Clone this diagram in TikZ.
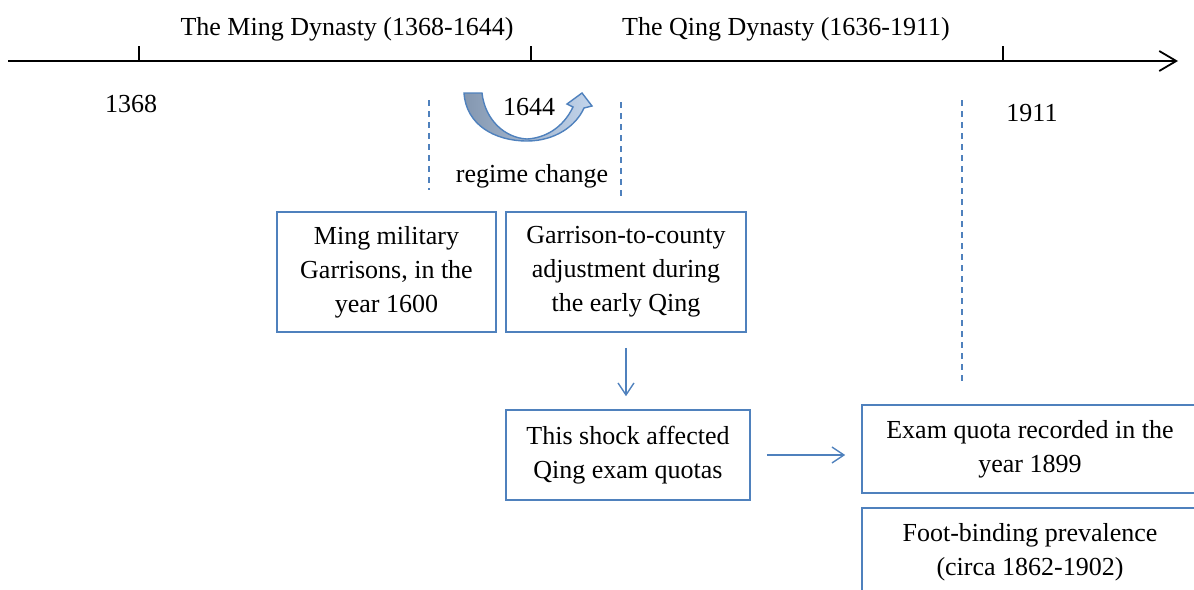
\documentclass[tikz,border=0pt]{standalone}
\usepackage{fontspec}
\setmainfont{Liberation Serif}
\usepackage{tikz}
\usetikzlibrary{arrows.meta}
\definecolor{boxblue}{HTML}{4F81BD}
\definecolor{lightarr}{HTML}{C3D5EC}
\definecolor{darkarr}{HTML}{8497B0}

\begin{document}
\begin{tikzpicture}[x=0.5pt, y=-0.5pt, font=\fontsize{13}{17}\selectfont,
  box/.style={draw=boxblue, line width=0.8pt, align=center, inner sep=0pt},
  link/.style={-{Straight Barb[length=6pt,width=8pt]}, draw=boxblue, line width=0.7pt},
  guide/.style={draw=boxblue, line width=1pt, dash pattern=on 3pt off 2.5pt}]
  \useasboundingbox (0,0) rectangle (1194,589);
  \clip (0,0) rectangle (1194,589);
  % time line
  \coordinate (t0) at (8,61);
  \coordinate (t1) at (1178,61);
  \draw[-{Straight Barb[length=8.5pt,width=10pt]}, line width=0.9pt] (t0) -- (t1);
  \foreach \x in {139,531,1003}
    \draw[line width=0.9pt] (\x,61) -- (\x,46);
  \node (mingera) at (347,29) {The Ming Dynasty (1368-1644)};
  \node (qingera) at (786,29) {The Qing Dynasty (1636-1911)};
  \node (y1368) at (131,104) {1368};
  \node (y1644) at (529,107) {1644};
  \node (y1911) at (1032,113) {1911};
  \node (regime) at (532,176) {regime change};
  % dashed guides
  \coordinate (g1a) at (429,100); \coordinate (g1b) at (429,190);
  \coordinate (g2a) at (621,102); \coordinate (g2b) at (621,196);
  \coordinate (g3a) at (962,100); \coordinate (g3b) at (962,383);
  \draw[guide] (g1a) -- (g1b);
  \draw[guide] (g2a) -- (g2b);
  \draw[guide] (g3a) -- (g3b);
  % u-turn arrow
  \draw[draw=boxblue, line width=0.7pt, left color=darkarr, right color=lightarr]
    (464,93) .. controls (466,125) and (495,141) .. (527,141)
    .. controls (555,141) and (576,126) .. (584,108)
    -- (592,106) -- (582,93) -- (567,104) -- (573,107)
    .. controls (563,128) and (545,138) .. (527,139)
    .. controls (505,138) and (485,120) .. (482,93) -- cycle;
  % boxes
  \node[box, minimum width=109.5pt, minimum height=60pt] (ming) at (386.5,272)
    {Ming military\\Garrisons, in the\\year 1600};
  \node[box, minimum width=120pt, minimum height=60pt] (garrison) at (626,272)
    {Garrison-to-county\\adjustment during\\the early Qing};
  \node[box, minimum width=122pt, minimum height=45pt] (shock) at (628,455)
    {This shock affected\\Qing exam quotas};
  \node[box, minimum width=168pt, minimum height=44pt] (quota) at (1030,449)
    {Exam quota recorded in the\\year 1899};
  \node[box, minimum width=168pt, minimum height=44pt] (foot) at (1030,552)
    {Foot-binding prevalence\\(circa 1862-1902)};
  \draw[link, shorten <=7.5pt, shorten >=6.5pt] (garrison.south) -- (garrison.south |- shock.north);
  \draw[link, shorten <=8pt, shorten >=8pt] (shock.east) -- (shock.east -| quota.west);
\end{tikzpicture}
\end{document}
